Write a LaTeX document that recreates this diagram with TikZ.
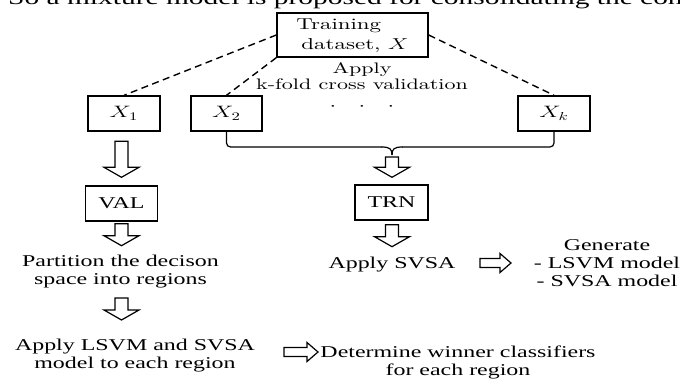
\RequirePackage{fix-cm}
\documentclass[tikz,border=0pt]{standalone}
\usepackage{graphicx}
\usepackage{fontspec}
\setmainfont{Liberation Serif}
\newfontfamily\lmfont{lmroman10-regular.otf}
\usetikzlibrary{calc}
\newcommand\hs[1]{\scalebox{1.45}[1]{#1}}
\newcommand\vblk[2]{\draw[blk] let \p1=#1, \p2=#2 in (\x1-6.5pt,\y1) -- (\x1+6.5pt,\y1) -- (\x1+6.5pt,\y2+10pt) -- (\x1+17.5pt,\y2+10pt) -- (\x1,\y2) -- (\x1-17.5pt,\y2+10pt) -- (\x1-6.5pt,\y2+10pt) -- cycle;}
\newcommand\hblk[2]{\draw[blk] let \p1=#1, \p2=#2 in (\x1,\y1-4.5pt) -- (\x2-11pt,\y1-4.5pt) -- (\x2-11pt,\y1-9.5pt) -- (\x2,\y1) -- (\x2-11pt,\y1+9.5pt) -- (\x2-11pt,\y1+4.5pt) -- (\x1,\y1+4.5pt) -- cycle;}
\begin{document}
\begin{tikzpicture}[x=1pt,y=-1pt,
  box/.style={draw, line width=1.4pt, inner sep=0pt, font=\fontsize{16.5}{18}\selectfont},
  txt/.style={inner sep=0pt, font=\fontsize{16.5}{18}\selectfont},
  dsh/.style={line width=1.4pt, dash pattern=on 7pt off 4.5pt},
  conn/.style={line width=1.2pt},
  blk/.style={draw, fill=white, line width=1.2pt, line join=miter}]
\useasboundingbox (0,0) rectangle (680,383);
\begin{scope}
\clip (0,0) rectangle (680,383);
\node[anchor=base west, inner sep=0pt, font=\fontsize{20.3}{22}\selectfont] (cut) at (8,4.5) {\hs{So a mixture model is proposed for consolidating the con}};
\end{scope}
% top box
\node[box, minimum width=151pt, minimum height=44pt, font=\lmfont\fontsize{15.8}{20}\selectfont] (T) at (352.5,35)
  {\hs{\begin{tabular}{@{}l@{}}Training\\\hspace*{3.5pt}dataset, $X$\end{tabular}}};
\node[txt, font=\lmfont\fontsize{15.2}{16}\selectfont] (kf) at (362,78)
  {\hs{\begin{tabular}{@{}c@{}}Apply\\k-fold cross validation\end{tabular}}};
% fold boxes
\node[box, minimum width=72pt, minimum height=35pt] (X1) at (124,113.5) {\hs{$X_1$}};
\node[box, minimum width=71pt, minimum height=35pt] (X2) at (226.5,113.5) {\hs{$X_2$}};
\node[box, minimum width=72pt, minimum height=35pt] (Xk) at (554,113.5) {\hs{$X_k$}};
\node[txt] (dots) at (362,107) {\hs{$\cdot$\hspace{15.5pt}$\cdot$\hspace{15.5pt}$\cdot$}};
\draw[dsh] (T.west) -- (X1.north);
\draw[dsh] (T.south west) -- (X2.north);
\draw[dsh] (T.east) -- (Xk.north);
% bracket
\coordinate (cusp) at (392,155);
\draw[conn, rounded corners=4pt] (X2.south) |- ($(cusp)+(-10,-8)$);
\draw[conn] ($(cusp)+(-10.5,-8)$) .. controls ($(cusp)+(-2,-8)$) and ($(cusp)+(0,-6)$) .. (cusp);
\draw[conn, rounded corners=4pt] (Xk.south) |- ($(cusp)+(10,-8)$);
\draw[conn] ($(cusp)+(10.5,-8)$) .. controls ($(cusp)+(2,-8)$) and ($(cusp)+(0,-6)$) .. (cusp);
% VAL / TRN
\node[box, minimum width=72pt, minimum height=35pt] (VAL) at (121.5,203.5) {\hs{VAL}};
\node[box, minimum width=73pt, minimum height=35pt] (TRN) at (391.5,202.5) {\hs{TRN}};
\vblk{($(VAL.north)+(0,-44)$)}{($(VAL.north)+(0,-8)$)}
\vblk{($(cusp)+(0,2)$)}{($(TRN.north)+(0,-7)$)}
\vblk{($(VAL.south)+(0,2)$)}{($(VAL.south)+(0,24)$)}
\vblk{($(TRN.south)+(0.5,4)$)}{($(TRN.south)+(0.5,26)$)}
% left column texts
\node[txt] (part) at (120.5,271.5) {\hs{\begin{tabular}{@{}c@{}}Partition the decison\\space into regions\end{tabular}}};
\vblk{(121.5,298)}{(121.5,320)}
\node[txt] (lsvm) at (135,356) {\hs{\begin{tabular}{@{}c@{}}Apply LSVM and SVSA\\model to each region\end{tabular}}};
\node[txt, anchor=base] (svsa) at (392,268.5) {\hs{Apply SVSA}};
\node[txt] (gen) at (607,265) {\hs{\begin{tabular}{@{}c@{}}Generate\\- LSVM model\\- SVSA model\end{tabular}}};
\node[txt] (det) at (458,363) {\hs{\begin{tabular}{@{}c@{}}Determine winner classifiers\\for each region\end{tabular}}};
\hblk{(480,263)}{(511,263)}
\hblk{(284,352)}{(318,352)}
\end{tikzpicture}
\end{document}
